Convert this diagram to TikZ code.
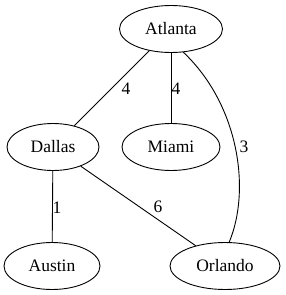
\documentclass[tikz,border=0pt]{standalone}
\usepackage{fontspec}
\setmainfont{Liberation Serif}
\usetikzlibrary{shapes.geometric}
\begin{document}
\begin{tikzpicture}[x=1pt,y=-1pt,
  city/.style={draw,ellipse,line width=0.9pt,minimum height=47pt,inner sep=0pt,font=\fontsize{17.5}{20}\selectfont},
  edge/.style={line width=0.9pt},
  lbl/.style={font=\fontsize{17.5}{20}\selectfont,inner sep=0pt}]
\useasboundingbox (0,0) rectangle (285,295);
\node[city,minimum width=103pt] (A) at (171,29) {Atlanta};
\node[city,minimum width=92pt] (D) at (53,147) {Dallas};
\node[city,minimum width=98pt] (M) at (171,147) {Miami};
\node[city,minimum width=96pt] (Au) at (52,266) {Austin};
\node[city,minimum width=110pt] (O) at (225,266) {Orlando};
\draw[edge] (A) -- (D);
\node[lbl] (l1) at (126,89) {4};
\draw[edge] (A) -- (M);
\node[lbl] (l2) at (176,89) {4};
\draw[edge] (A.-62) .. controls (239,105) and (251,190) .. (O.80);
\node[lbl] (l3) at (244,147) {3};
\draw[edge] (D) -- (Au);
\node[lbl] (l4) at (57,208) {1};
\draw[edge] (D) -- (O);
\node[lbl] (l5) at (158,207) {6};
\end{tikzpicture}
\end{document}
